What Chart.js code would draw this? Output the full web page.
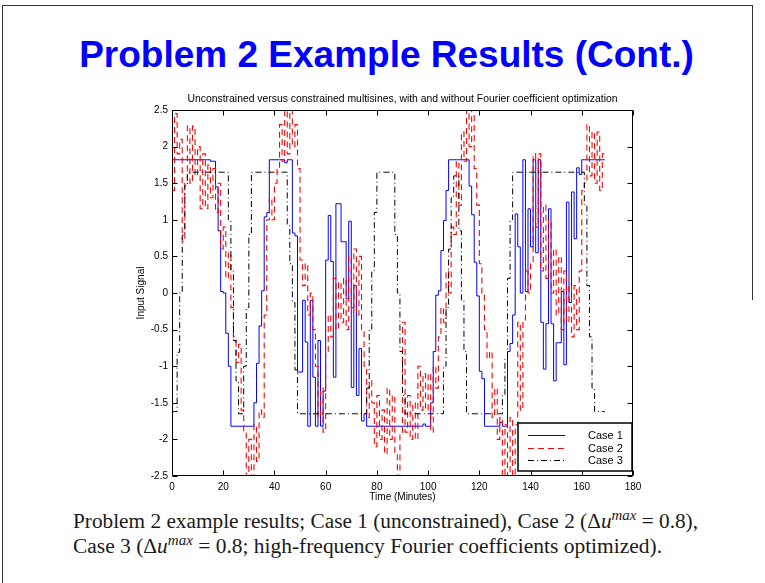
<!DOCTYPE html>
<html>
<head>
<meta charset="utf-8">
<script src="https://cdn.jsdelivr.net/npm/chart.js@4.4.1/dist/chart.umd.min.js"></script>
<style>
  html, body { margin: 0; padding: 0; background: #fff; }
  body { width: 765px; height: 583px; position: relative; overflow: hidden; }
  .rule { position: absolute; background: #333; }
  #slideTitle {
    position: absolute; left: 0; width: 773px; top: 36px; text-align: center;
    font: bold 37px/37px "Liberation Sans", Arial, sans-serif; color: #0000ff; white-space: nowrap;
  }
  .caption {
    position: absolute; left: 73px; white-space: nowrap; transform-origin: 0 0;
    font: 20px/24px "Liberation Serif", "Times New Roman", serif; color: #1a1a1a;
  }
  .caption .sup { font-style: italic; font-size: 14px; vertical-align: 8px; line-height: 0; }
  #plot { position: absolute; left: 0; top: 0; }
</style>
</head>
<body>
<div class="rule" style="left:2px;top:5px;width:751px;height:1px"></div>
<div class="rule" style="left:2px;top:5px;width:1px;height:578px"></div>
<div class="rule" style="left:752px;top:5px;width:1px;height:295px"></div>

<div id="slideTitle">Problem 2 Example Results (Cont.)</div>

<div class="caption" id="cap1" style="top:509px">Problem 2 example results; Case 1 (unconstrained), Case 2 (Δ<i>u</i><span class="sup">max</span> = 0.8),</div>
<div class="caption" id="cap2" style="top:534px">Case 3 (Δ<i>u</i><span class="sup">max</span> = 0.8; high-frequency Fourier coefficients optimized).</div>

<canvas id="plot" width="765" height="583"></canvas>

<script>
// sample grid, one value per minute (zero-order hold)
const minutes = Array.from({ length: 170 }, (_, i) => i);

// Case 1 - unconstrained
const case1 = [
  1.82, 1.82, 1.82, 1.82, 1.82, 1.82, 1.82, 1.82, 1.82, 1.82,
  1.82, 1.82, 1.82, 1.82, 1.82, 1.80, 1.80, 1.45, 0.85, 0.02,
  0.00, -0.55, -1.00, -1.82, -1.82, -1.82, -1.82, -1.82, -1.82, -1.82,
  -1.82, -1.82, -1.50, -0.96, -0.45, 0.03, 1.04, 1.10, 1.82, 1.82,
  1.82, 1.82, 1.82, 1.82, 1.78, 1.82, 1.82, 0.82, 0.78, -1.08,
  -1.08, -0.10, -0.67, -1.82, -0.10, -1.15, -1.82, -0.65, -1.82, -1.34,
  0.45, 1.06, 0.43, -1.15, 1.22, 1.22, 0.70, 0.70, -0.08, 0.98,
  -1.29, 0.10, -1.40, -0.76, -1.75, -1.65, -1.82, -1.82, -1.82, -1.82,
  -1.82, -1.82, -1.82, -1.82, -1.82, -1.82, -1.82, -1.82, -1.82, -1.82,
  -1.82, -1.82, -1.82, -1.82, -1.82, -1.82, -1.82, -1.82, -1.79, -1.82,
  -1.82, -1.50, -0.80, -0.03, 0.03, 0.58, 0.99, 1.40, 1.82, 1.82,
  1.82, 1.82, 1.82, 1.82, 1.82, 1.82, 1.46, 1.07, 0.42, -0.04,
  -1.07, -1.17, -1.82, -1.82, -1.82, -1.82, -1.82, -1.82, -1.77, -1.82,
  -1.82, -0.80, -0.69, -0.30, 1.08, 0.63, 0.00, 1.82, 0.02, 1.15,
  0.63, 1.82, 0.55, 1.82, -0.40, -1.04, -0.42, 1.15, -0.42, -1.20,
  -0.68, -0.68, 0.02, -0.98, 1.24, -0.13, 1.38, 0.74, 1.71, 1.62,
  1.82, 1.82, 1.82, 1.82, 1.82, 1.82, 1.82, 1.82, 1.82, 1.82
];

// Case 2 - constrained, delta u max = 0.8
const case2 = [
  1.40, 2.45, 1.90, 2.10, 0.70, 1.50, 2.28, 1.50, 2.28, 1.60,
  2.00, 1.15, 1.90, 1.15, 1.75, 1.30, 1.70, 1.10, 1.50, 0.60,
  0.90, 0.20, 0.55, -0.20, -0.60, -0.95, -0.70, -1.60, -1.90, -2.50,
  -2.00, -2.50, -1.80, -2.30, -1.60, -1.70, -0.30, 1.00, 1.30, 1.00,
  1.50, 1.70, 2.30, 1.80, 2.50, 1.90, 2.50, 2.00, 2.30, 1.70,
  0.45, 0.10, 0.40, -0.30, 0.00, -0.50, -1.00, -1.70, -1.30, -1.90,
  -0.80, -0.30, -0.60, 0.20, -0.50, 0.15, -0.40, 0.20, -0.50, 0.50,
  -0.20, 0.60, -0.30, 0.50, -0.50, -1.00, -1.70, -1.20, -1.50, -2.10,
  -1.40, -2.00, -1.60, -2.20, -1.30, -2.00, -1.40, -2.20, -2.50, -1.90,
  -0.40, -1.90, -1.40, -2.00, -1.50, -2.00, -1.00, -1.60, -1.10, -1.60,
  -1.10, -1.90, -1.00, -1.30, -0.60, -0.20, -0.40, 0.30, 0.00, 0.90,
  0.80, 1.80, 1.20, 2.20, 1.80, 2.50, 2.00, 2.50, 1.70, 1.20,
  0.40, 0.00, -0.50, -0.90, -0.80, -1.70, -1.30, -2.00, -1.70, -2.50,
  -1.80, -2.50, -1.70, -2.50, -1.80, -0.40, -1.60, -0.40, 0.30, 0.00,
  0.40, 1.90, 0.90, 1.90, 0.30, 1.20, 0.20, 1.00, 0.00, 0.60,
  -0.30, 0.50, -0.50, 0.30, -0.40, 0.10, -0.60, 0.10, -0.50, 0.30,
  1.40, 1.50, 2.30, 1.60, 2.20, 1.50, 2.20, 1.40, 1.90, 1.90
];

// Case 3 - constrained, high-frequency Fourier coefficients optimized
const case3 = [
  -1.62, -1.62, -0.81, 0.00, 0.79, 1.47, 1.65, 1.65, 1.65, 1.65,
  1.65, 1.65, 1.65, 1.65, 1.65, 1.65, 1.65, 1.65, 1.65, 1.65,
  1.65, 1.65, 1.00, 0.30, -0.65, -1.20, -1.65, -1.65, -1.00, -0.20,
  0.80, 1.65, 1.65, 1.65, 1.65, 1.65, 1.65, 1.65, 1.65, 1.65,
  1.65, 1.65, 1.65, 1.65, 1.65, 0.92, 0.40, -0.13, -1.05, -1.65,
  -1.65, -1.65, -1.65, -1.65, -1.65, -1.65, -1.65, -1.65, -1.65, -1.65,
  -1.65, -1.65, -1.65, -1.65, -1.65, -1.65, -1.65, -1.65, -1.65, -1.65,
  -1.65, -1.65, -1.65, -1.65, -1.65, -1.65, -1.30, -0.50, 0.30, 1.10,
  1.65, 1.65, 1.65, 1.65, 1.65, 1.65, 1.65, 0.80, 0.00, -0.80,
  -1.40, -1.65, -1.65, -1.65, -1.65, -1.65, -1.65, -1.65, -1.65, -1.65,
  -1.65, -1.65, -1.65, -1.65, -1.65, -1.65, -1.00, -0.20, 0.60, 1.30,
  1.60, 1.60, 0.85, -0.10, -0.80, -1.65, -1.65, -1.65, -1.65, -1.65,
  -1.65, -1.65, -1.65, -1.65, -1.65, -1.65, -1.65, -1.65, -1.65, -1.40,
  -0.90, 0.20, 1.00, 1.65, 1.65, 1.65, 1.65, 1.65, 1.65, 1.65,
  1.65, 1.65, 1.65, 1.65, 1.65, 1.65, 1.65, 1.65, 1.65, 1.65,
  1.65, 1.65, 1.65, 1.65, 1.65, 1.65, 1.65, 1.65, 1.65, 1.65,
  1.65, 1.20, 0.10, -0.60, -1.30, -1.62, -1.62, -1.62, -1.62, -1.62
];

const seriesNames = ['Case 1', 'Case 2', 'Case 3'];
const xRange = [0, 180];
const xStep = 20;
const yRange = [-2.5, 2.5];
const yStep = 0.5;

const sans = '"Liberation Sans", Arial, Helvetica, sans-serif';
Chart.defaults.font.family = sans;
Chart.defaults.color = '#000';

const toPoints = vals => vals.map((v, i) => ({ x: minutes[i], y: v }));
// matlab prints 2 and -1, not 2.0 and -1.0
const plainNumber = v => String(Number(v.toFixed(2)));

// matlab style box with inward ticks on all four sides
const boxTicks = {
  id: 'boxTicks',
  afterDatasetsDraw(chart) {
    const { ctx, chartArea: a, scales: { x, y } } = chart;
    const L = Math.round(a.left) + 0.5, R = Math.round(a.right) - 0.5;
    const T = Math.round(a.top) + 0.5, B = Math.round(a.bottom) - 0.5;
    ctx.save();
    ctx.strokeStyle = '#000';
    ctx.lineWidth = 1;
    ctx.beginPath();
    x.ticks.forEach(t => {
      const px = Math.round(x.getPixelForValue(t.value)) + 0.5;
      ctx.moveTo(px, B); ctx.lineTo(px, B - 5);
      ctx.moveTo(px, T); ctx.lineTo(px, T + 5);
    });
    y.ticks.forEach(t => {
      const py = Math.round(y.getPixelForValue(t.value)) + 0.5;
      ctx.moveTo(L, py); ctx.lineTo(L + 5, py);
      ctx.moveTo(R, py); ctx.lineTo(R - 5, py);
    });
    ctx.stroke();
    ctx.strokeRect(L, T, R - L, B - T);
    ctx.restore();
  }
};

const boxLegend = {
  id: 'boxLegend',
  afterDraw(chart) {
    const { ctx, chartArea: a } = chart;
    const w = 114, h = 48;
    const left = Math.round(a.right) - 1 - w, top = Math.round(a.bottom) - 5 - h;
    ctx.save();
    ctx.fillStyle = '#fff';
    ctx.fillRect(left, top, w, h);
    ctx.lineWidth = 1.5;
    ctx.strokeStyle = '#000';
    ctx.strokeRect(left, top, w, h);
    chart.data.datasets.forEach((ds, i) => {
      const yy = Math.round(top + 12 + i * 12.5) + 0.5;
      ctx.beginPath();
      ctx.setLineDash(ds.borderDash || []);
      ctx.strokeStyle = ds.borderColor;
      ctx.lineWidth = 1;
      ctx.moveTo(left + 10, yy);
      ctx.lineTo(left + 47, yy);
      ctx.stroke();
      ctx.setLineDash([]);
      ctx.fillStyle = '#000';
      ctx.font = '11px ' + sans;
      ctx.textBaseline = 'middle';
      ctx.textAlign = 'left';
      ctx.fillText(ds.label, left + 70, yy);
    });
    ctx.restore();
  }
};

new Chart(document.getElementById('plot'), {
  type: 'line',
  data: {
    datasets: [
      { label: seriesNames[0], data: toPoints(case1), borderColor: '#0000ff', borderWidth: 1, stepped: 'before', order: 2 },
      { label: seriesNames[1], data: toPoints(case2), borderColor: '#ff0000', borderWidth: 1.1, borderDash: [6, 4], stepped: 'before', order: 1 },
      { label: seriesNames[2], data: toPoints(case3), borderColor: '#000000', borderWidth: 1, borderDash: [6, 3, 1, 3], stepped: 'before', order: 0 }
    ]
  },
  options: {
    responsive: false,
    animation: false,
    devicePixelRatio: 1,
    layout: { autoPadding: false, padding: { left: 130, right: 132, top: 0, bottom: 80 } },
    elements: { point: { radius: 0 }, line: { tension: 0 } },
    plugins: {
      legend: { display: false },
      tooltip: { enabled: false },
      title: {
        display: true,
        fullSize: false,
        text: 'Unconstrained versus constrained multisines, with and without Fourier coefficient optimization',
        color: '#000',
        font: { size: 10.4, weight: 'normal' },
        padding: { top: 93, bottom: 4.5 }
      }
    },
    scales: {
      x: {
        type: 'linear',
        min: xRange[0], max: xRange[1],
        grid: { display: false, drawTicks: false },
        border: { display: false },
        ticks: { stepSize: xStep, padding: 5, maxRotation: 0, autoSkip: false, font: { size: 10 }, callback: plainNumber },
        title: { display: true, text: 'Time (Minutes)', font: { size: 10 }, padding: 0 },
        afterFit(scale) { scale.height = 27; }
      },
      y: {
        min: yRange[0], max: yRange[1],
        grid: { display: false, drawTicks: false },
        border: { display: false },
        ticks: { stepSize: yStep, padding: 4, autoSkip: false, font: { size: 10 }, callback: plainNumber },
        title: { display: true, text: 'Input Signal', font: { size: 10 }, padding: { top: 5, bottom: 0 } },
        afterFit(scale) { scale.width = 42; }
      }
    }
  },
  plugins: [boxTicks, boxLegend]
});

// stretch caption lines to the measured widths of the slide text
function fitCaption(id, width) {
  const el = document.getElementById(id);
  const w = el.getBoundingClientRect().width;
  el.style.transform = 'scaleX(' + (width / w).toFixed(4) + ')';
}
fitCaption('cap1', 625);
fitCaption('cap2', 589);
</script>
</body>
</html>
